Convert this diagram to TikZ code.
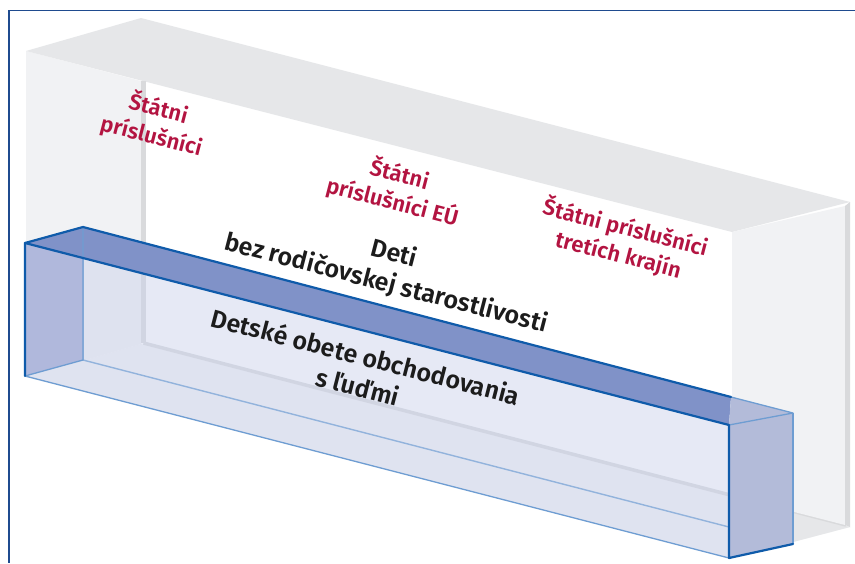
\documentclass[tikz,border=0pt]{standalone}
\usepackage{fontspec}
\setmainfont{Fira Sans}[BoldFont={Fira Sans SemiBold}]
\usepackage{xcolor}
\definecolor{frame-blue}{HTML}{1F4B8F}
\definecolor{shell-top}{HTML}{E6E7E9}
\definecolor{shell-side}{HTML}{F1F2F4}
\definecolor{shell-edge}{HTML}{D9DADC}
\definecolor{shell-floor}{HTML}{F3F3F5}
\definecolor{tray-top}{HTML}{8092C8}
\definecolor{tray-side}{HTML}{B0B8DC}
\definecolor{tray-end}{HTML}{B3BBD9}
\definecolor{tray-front}{HTML}{C8D0EB}
\definecolor{tray-line}{HTML}{0F5BAA}
\definecolor{tray-line-light}{HTML}{6E9DD2}
\definecolor{tray-line-inner}{HTML}{92B3DC}
\definecolor{label-red}{HTML}{B31441}
\definecolor{label-black}{HTML}{1C1C1C}
\usepackage{tikz}

\begin{document}
\begin{tikzpicture}[x=1pt, y=-1pt,
    country/.style={text=label-red, font=\fontsize{22}{28}\selectfont\bfseries, align=center, rotate=-14.5, inner sep=0pt},
    group/.style={text=label-black, font=\fontsize{25}{31}\selectfont\bfseries, align=center, rotate=-14.5, inner sep=0pt},
    edge-dark/.style={draw=tray-line, line width=2.2pt, line join=round, line cap=round},
    edge-light/.style={draw=tray-line-light, line width=1.3pt, line join=round}]

    % Background
    \fill[white] (0, 0) rectangle (855, 563);
    \useasboundingbox (0, 0) rectangle (855, 563);

    % Frame
    \draw[frame-blue, line width=1.6pt] (855, 10.5) -- (9, 10.5) -- (9, 563);

    % Shell
    \fill[shell-floor] (26, 377) -- (141, 344) -- (850, 527) -- (732, 558) -- cycle;
    \fill[shell-top] (793, 512) -- (850, 527) -- (793, 542) -- cycle;
    \fill[shell-side] (26, 51) -- (141, 81) -- (141, 344) -- (26, 377) -- cycle;
    \fill[shell-top] (26, 51) -- (141, 18) -- (850, 202) -- (732, 232) -- cycle;
    \draw[shell-edge, line width=4.5pt] (143.5, 81) -- (143.5, 343);
    \draw[shell-edge, line width=3.5pt] (143.5, 343) -- (846, 525);
    \fill[shell-side] (732, 232) -- (845, 206) -- (845, 525) -- (732, 496) -- cycle;
    \fill[shell-edge] (845, 206) -- (850, 202) -- (850, 527) -- (845, 525) -- cycle;

    % Labels behind
    \node[country] (nationals) at (155, 122) {Štátni\\príslušníci};
    \node[country] (eunationals) at (396, 188) {Štátni\\príslušníci EÚ};
    \node[country] (thirdnationals) at (622, 241) {Štátni príslušníci\\tretích krajín};
    \node[group] (unaccompanied) at (390, 269) {Deti\\bez rodičovskej starostlivosti};

    % Tray
    \fill[tray-front, fill opacity=0.45] (25, 243) -- (729, 425) -- (729, 558) -- (25, 376) -- cycle;
    \draw[tray-line-inner, line width=1.4pt] (83, 227) -- (83, 360) -- (729, 527);
    \fill[tray-side] (25, 243) -- (83, 227) -- (83, 360) -- (25, 376) -- cycle;
    \fill[tray-top] (25, 243) -- (83, 227) -- (731, 397) -- (729, 425) -- cycle;
    \fill[tray-end] (729, 425) -- (731, 397) -- (793, 413) -- cycle;
    \fill[tray-end] (729, 425) -- (793, 413) -- (793, 544) -- (729, 558) -- cycle;
    \draw[edge-light] (731, 397) -- (793, 413) -- (729, 425);
    \draw[edge-light] (793, 413) -- (793, 544);
    \draw[edge-light] (25, 376) -- (83, 360) -- (83, 227);
    \draw[edge-light] (25, 376) -- (729, 558);
    \draw[edge-dark] (83, 227) -- (731, 397);
    \draw[edge-dark] (25, 376) -- (25, 243) -- (83, 227);
    \draw[edge-dark] (25, 243) -- (729, 425) -- (729, 558) -- (793, 544);

    % Label in front
    \node[group] (trafficked) at (362, 371) {Detské obete obchodovania\\s ľuďmi};

\end{tikzpicture}
\end{document}
